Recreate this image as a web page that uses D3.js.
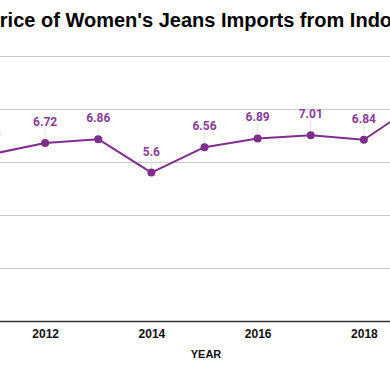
<!DOCTYPE html>
<html>
<head>
<meta charset="utf-8">
<script src="https://cdn.jsdelivr.net/npm/d3@7"></script>
<style>
  body { margin: 0; background: #fff; }
  svg { display: block; }
</style>
</head>
<body>
<svg width="390" height="371"></svg>
<script>
// values
const years = [2011, 2012, 2013, 2014, 2015, 2016, 2017, 2018, 2019];
const prices = [6.3, 6.72, 6.86, 5.6, 6.56, 6.89, 7.01, 6.84, 8.19];
const xTicks = [2012, 2014, 2016, 2018];
const yTicks = [0, 2, 4, 6, 8, 10];

const title = "Price of Women's Jeans Imports from Indonesia";
const purple = "#7e2f8e";

const svg = d3.select("svg");

// plot area is wider than the window, so the view shows only a slice of it
const x = d3.scaleLinear().domain([2011, 2019]).range([-8, 417]);
const y = d3.scaleLinear().domain([0, 10]).range([321, 56]);

svg.append("text")
    .attr("x", -13.5)
    .attr("y", 27)
    .attr("font-family", "Liberation Sans, Arial, sans-serif")
    .attr("font-weight", "bold")
    .attr("font-size", 20)
    .attr("fill", "#000")
    .text(title);

// grid
svg.append("g")
    .selectAll("line")
    .data(yTicks.filter(d => d > 0))
    .join("line")
    .attr("x1", -60)
    .attr("x2", 460)
    .attr("y1", d => Math.round(y(d)) + 0.5)
    .attr("y2", d => Math.round(y(d)) + 0.5)
    .attr("stroke", "#cccccc")
    .attr("stroke-width", 1);

// x axis
const xAxis = svg.append("g")
    .attr("transform", `translate(0,${y(0)})`)
    .call(d3.axisBottom(x).tickValues(xTicks).tickFormat(d3.format("d")).tickSize(0).tickPadding(8));
xAxis.select(".domain")
    .attr("d", "M-60,0.5H460")
    .attr("stroke", "#333")
    .attr("stroke-width", 1.5);
xAxis.selectAll("text")
    .attr("font-family", "Liberation Sans, Arial, sans-serif")
    .attr("font-weight", "bold")
    .attr("font-size", 12)
    .attr("fill", "#111");

svg.append("text")
    .attr("x", 206)
    .attr("y", 358)
    .attr("text-anchor", "middle")
    .attr("font-family", "Liberation Sans, Arial, sans-serif")
    .attr("font-weight", "bold")
    .attr("font-size", 11)
    .attr("fill", "#111")
    .text("YEAR");

const data = years.map((d, i) => ({year: d, value: prices[i]}));

// leader lines from label to point
svg.append("g")
    .selectAll("line")
    .data(data)
    .join("line")
    .attr("x1", d => x(d.year))
    .attr("x2", d => x(d.year))
    .attr("y1", d => y(d.value) - 15)
    .attr("y2", d => y(d.value))
    .attr("stroke", "#e4e4e4")
    .attr("stroke-width", 1);

svg.append("path")
    .datum(data)
    .attr("fill", "none")
    .attr("stroke", purple)
    .attr("stroke-width", 2)
    .attr("stroke-linejoin", "round")
    .attr("d", d3.line().x(d => x(d.year)).y(d => y(d.value)));

svg.append("g")
    .selectAll("circle")
    .data(data)
    .join("circle")
    .attr("cx", d => x(d.year))
    .attr("cy", d => y(d.value))
    .attr("r", 4)
    .attr("fill", purple);

svg.append("g")
    .selectAll("text")
    .data(data)
    .join("text")
    .attr("x", d => x(d.year))
    .attr("y", d => y(d.value) - 17)
    .attr("text-anchor", "middle")
    .attr("font-family", "Roboto, sans-serif")
    .attr("font-weight", "bold")
    .attr("font-size", 12)
    .attr("fill", "#8a3d9b")
    .text(d => d.value);
</script>
</body>
</html>
